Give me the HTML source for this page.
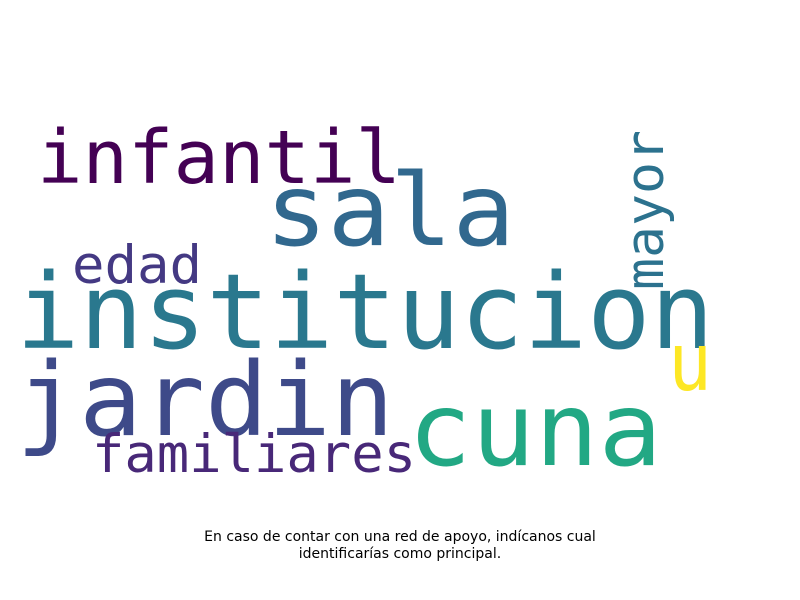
<!DOCTYPE html>
<html><head><meta charset="utf-8"><style>
html,body{margin:0;padding:0;background:#fff;}
svg{display:block}
</style></head><body>
<svg width="800" height="600" viewBox="0 0 800 600">
<rect width="800" height="600" fill="#fff"/>
<g font-family="'DejaVu Sans Mono','Liberation Mono',monospace" id="words"></g>
<text x="400" y="541" text-anchor="middle" font-family="'DejaVu Sans','Liberation Sans',sans-serif" font-size="14" fill="#000">En caso de contar con una red de apoyo, indícanos cual</text>
<text x="400" y="558" text-anchor="middle" font-family="'DejaVu Sans','Liberation Sans',sans-serif" font-size="14" fill="#000">identificarías como principal.</text>
</svg>
<script>
const words=["institucion","sala","jardin","cuna","infantil","familiares","edad","mayor","u"];
const sizes=[104,100,102,102,74,53,53,53,80];
const colors=["#2a788e","#31688e","#3e4a89","#22a884","#440154","#482878","#443983","#2c728e","#fde725"];
const layout=[[16,348,698,0],[265,245,250,0],[16,435,378,0],[408,465,254,0],[37,183,364,0],[92,472,324,0],[72,283,130,0],[663,290,160,-90],[668,390,44,0]];
const g=document.getElementById('words');
words.forEach((w,i)=>{
 const t=document.createElementNS('http://www.w3.org/2000/svg','text');
 
 
 const [x,y,len,rot]=layout[i];
 t.setAttribute('x',x);t.setAttribute('y',y);
 t.setAttribute('font-size',sizes[i]);
 t.setAttribute('fill',colors[i]);
 t.setAttribute('textLength',len);
 t.setAttribute('lengthAdjust','spacingAndGlyphs');
 if(rot)t.setAttribute('transform','rotate('+rot+' '+x+' '+y+')');
 t.textContent=w;
 g.appendChild(t);
});
</script>
</body></html>
